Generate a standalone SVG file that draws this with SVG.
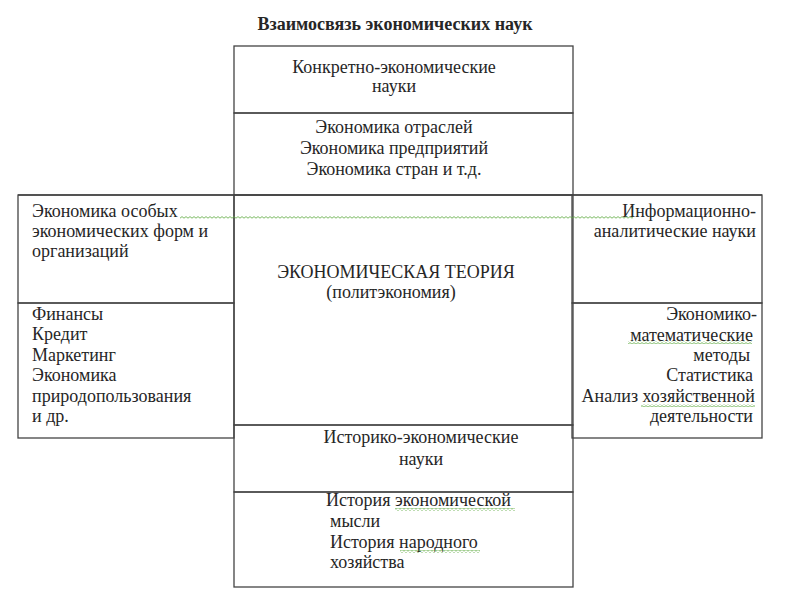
<svg xmlns="http://www.w3.org/2000/svg" width="800" height="600" viewBox="0 0 800 600">
<defs>
<pattern id="wavy" x="0" y="0" width="4" height="3" patternUnits="userSpaceOnUse">
<path d="M0,2.2 L2,0.6 L4,2.2" fill="none" stroke="#5aa83c" stroke-width="0.8"/>
</pattern>
<style>
.t{font-size:18px;fill:#262626}
.b{font-weight:bold;font-size:18px}
.m{text-anchor:middle}
.e{text-anchor:end}
.box{fill:none;stroke:#444;stroke-width:1.3}
.wv{fill:url(#wavy)}
</style>
</defs>
<rect width="800" height="600" fill="#fff"/>
<g font-family="'Liberation Serif', 'Times New Roman', serif">
<text class="t b m" x="395" y="30">Взаимосвязь экономических наук</text>
<g id="connectors">
<line class="box" x1="18" y1="195" x2="762" y2="195"/>
</g>
<g id="top">
<rect class="box" x="234" y="46" width="339" height="67"/>
<text class="t m" x="394" y="73">Конкретно-экономические</text>
<text class="t m" x="394" y="92">науки</text>
</g>
<g id="top-list">
<rect class="box" x="234" y="113" width="339" height="82"/>
<text class="t m" x="394" y="133">Экономика отраслей</text>
<text class="t m" x="394" y="154">Экономика предприятий</text>
<text class="t m" x="394" y="175">Экономика стран и т.д.</text>
</g>
<g id="center">
<rect class="box" x="234" y="195" width="339" height="230"/>
<text class="t m" x="396" y="278">ЭКОНОМИЧЕСКАЯ ТЕОРИЯ</text>
<text class="t m" x="391" y="298">(политэкономия)</text>
</g>
<g id="left">
<rect class="box" x="18" y="195" width="216" height="108"/>
<text class="t" x="32" y="217">Экономика особых</text>
<text class="t" x="32" y="237">экономических форм и</text>
<text class="t" x="32" y="257">организаций</text>
</g>
<g id="left-list">
<rect class="box" x="18" y="303" width="216" height="135"/>
<text class="t" x="32" y="320">Финансы</text>
<text class="t" x="32" y="340">Кредит</text>
<text class="t" x="32" y="361">Маркетинг</text>
<text class="t" x="32" y="381">Экономика</text>
<text class="t" x="32" y="402">природопользования</text>
<text class="t" x="32" y="422">и др.</text>
</g>
<g id="right">
<rect class="box" x="572" y="195" width="190" height="108"/>
<text class="t e" x="756" y="217">Информационно-</text>
<text class="t e" x="756" y="237">аналитические науки</text>
</g>
<g id="right-list">
<rect class="box" x="572" y="303" width="190" height="135"/>
<text class="t e" x="757" y="320">Экономико-</text>
<text class="t e" x="753" y="341">математические</text>
<text class="t e" x="750" y="361">методы</text>
<text class="t e" x="753" y="381">Статистика</text>
<text class="t e" x="755" y="402">Анализ хозяйственной</text>
<text class="t e" x="753" y="422">деятельности</text>
</g>
<g id="bottom">
<rect class="box" x="234" y="425" width="339" height="67"/>
<text class="t m" x="421" y="443">Историко-экономические</text>
<text class="t m" x="421" y="465">науки</text>
</g>
<g id="bottom-list">
<rect class="box" x="234" y="492" width="339" height="95"/>
<text class="t" x="326" y="506">История экономической</text>
<text class="t" x="330" y="527">мысли</text>
<text class="t" x="330" y="548">История народного</text>
<text class="t" x="330" y="568">хозяйства</text>
</g>
</g>
<g id="spellmarks">
<rect class="wv" x="180" y="216" width="453" height="3"/>
<rect class="wv" x="628" y="341" width="124" height="3"/>
<rect class="wv" x="641" y="404" width="114" height="3"/>
<rect class="wv" x="395" y="508" width="120" height="3"/>
<rect class="wv" x="400" y="550" width="80" height="3"/>
</g>
</svg>
